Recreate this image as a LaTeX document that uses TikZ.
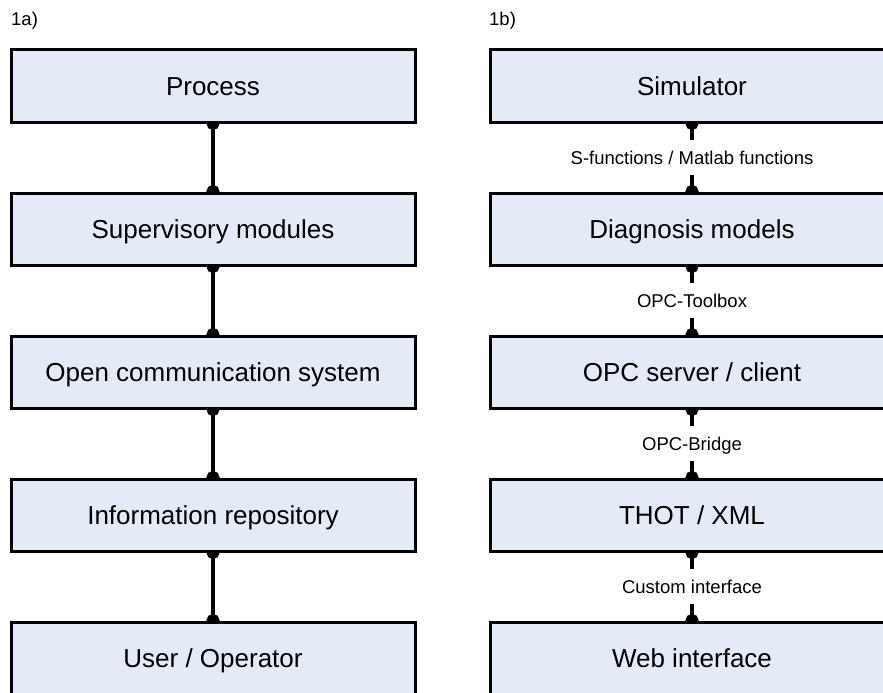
\documentclass[tikz,border=0pt]{standalone}
\usepackage{fontspec}
\setmainfont{Liberation Sans}
\usetikzlibrary{arrows.meta, positioning, backgrounds}
\definecolor{layerfill}{RGB}{229,235,246}

\begin{document}
\begin{tikzpicture}[x=1pt, y=-1pt,
  layer/.style={draw=black, line width=3pt, fill=layerfill, minimum width=404pt, minimum height=72pt, text height=19pt, text depth=1pt, font=\fontsize{26}{30}\selectfont},
  link/.style={line width=4pt, {Circle[length=13pt]}-{Circle[length=13pt]}, shorten <=-6.5pt, shorten >=-6.5pt},
  linklabel/.style={fill=white, inner xsep=1pt, inner ysep=10.5pt, text height=13.5pt, text depth=0.5pt, font=\fontsize{18.5}{22}\selectfont},
  tag/.style={anchor=base west, inner sep=0pt, font=\fontsize{18.5}{22}\selectfont},
  node distance=68pt]
\useasboundingbox (0,0) rectangle (883,693);

% 1a) layers
\node[tag] (tagA) at (11,26) {1a)};
\node[layer] (process) at (213,86) {Process};
\node[layer, below=of process] (super) {Supervisory modules};
\node[layer, below=of super] (comm) {Open communication system};
\node[layer, below=of comm] (repo) {Information repository};
\node[layer, below=of repo] (user) {User / Operator};

% 1b) implementation
\node[tag] (tagB) at (489,26) {1b)};
\node[layer] (sim) at (692,86) {Simulator};
\node[layer, below=of sim] (diag) {Diagnosis models};
\node[layer, below=of diag] (opc) {OPC server / client};
\node[layer, below=of opc] (thot) {THOT / XML};
\node[layer, below=of thot] (web) {Web interface};

\begin{scope}[on background layer]
\draw[link] (process) -- (super);
\draw[link] (super) -- (comm);
\draw[link] (comm) -- (repo);
\draw[link] (repo) -- (user);

\draw[link] (sim) -- node[linklabel] {S-functions / Matlab functions} (diag);
\draw[link] (diag) -- node[linklabel] {OPC-Toolbox} (opc);
\draw[link] (opc) -- node[linklabel] {OPC-Bridge} (thot);
\draw[link] (thot) -- node[linklabel] {Custom interface} (web);
\end{scope}
\end{tikzpicture}
\end{document}
